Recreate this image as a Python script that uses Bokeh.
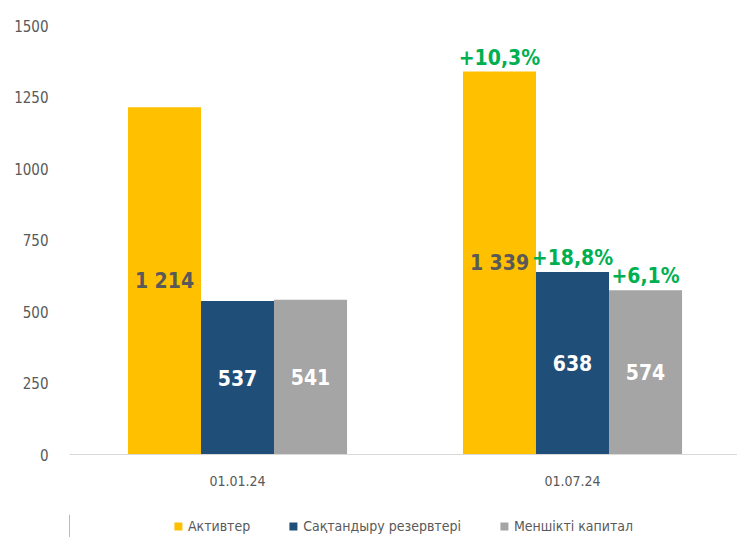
from bokeh.plotting import figure
from bokeh.layouts import column
from bokeh.models import Range1d, FixedTicker, ColumnDataSource, Legend, LegendItem
from bokeh.core.properties import value
from bokeh.embed import file_html
from bokeh.resources import INLINE

dates = ["01.01.24", "01.07.24"]
series_names = ["Активтер", "Сақтандыру резервтері", "Меншікті капитал"]
assets = [1214, 1339]
reserves = [537, 638]
equity = [541, 574]
growth = ["", "+10,3%"], ["", "+18,8%"], ["", "+6,1%"]
y_ticks = [0, 250, 500, 750, 1000, 1250, 1500]

colors = ["#FFC000", "#1F4E79", "#A5A5A5"]
label_colors = ["#595959", "#FFFFFF", "#FFFFFF"]
FONT = "DejaVu Sans Condensed"

p = figure(
    frame_width=668, frame_height=429,
    min_border_left=69, min_border_top=25, min_border_right=0, min_border_bottom=60,
    x_range=Range1d(-0.5015, 1.4925), y_range=Range1d(0, 1500),
    output_backend="svg", toolbar_location=None,
)
p.outline_line_color = None
p.xgrid.grid_line_color = None
p.ygrid.grid_line_color = None

bw = 0.218
offsets = [-bw, 0.0, bw]
xs = list(range(len(dates)))
for vals, off, col, lc, gr in zip([assets, reserves, equity], offsets, colors, label_colors, growth):
    src = ColumnDataSource(dict(
        x=[i + off for i in xs],
        top=vals,
        mid=[v / 2 for v in vals],
        lab=[f"{v:,}".replace(",", " ") for v in vals],
        gr=list(gr),
    ))
    p.vbar(x="x", top="top", width=bw, source=src, fill_color=col, line_color=None)
    p.text(x="x", y="mid", text="lab", source=src, text_align="center", text_baseline="middle",
           text_font=value(FONT), text_font_style="bold", text_font_size="21px", text_color=lc)
    p.text(x="x", y="top", text="gr", source=src, text_align="center", text_baseline="bottom",
           y_offset=-2, text_font=value(FONT), text_font_style="bold", text_font_size="21px",
           text_color="#00B050")

p.xaxis.ticker = FixedTicker(ticks=xs)
p.xaxis.major_label_overrides = {i: d for i, d in enumerate(dates)}
p.xaxis.axis_line_color = "#D9D9D9"
p.xaxis.axis_line_width = 1
p.xaxis.major_tick_line_color = None
p.xaxis.minor_tick_line_color = None
p.xaxis.major_tick_out = 0
p.xaxis.major_tick_in = 0
p.xaxis.major_label_standoff = 21
p.xaxis.major_label_text_font = FONT
p.xaxis.major_label_text_font_size = "14px"
p.xaxis.major_label_text_color = "#595959"

p.yaxis.ticker = FixedTicker(ticks=y_ticks)
p.yaxis.axis_line_color = None
p.yaxis.major_tick_line_color = None
p.yaxis.minor_tick_line_color = None
p.yaxis.major_tick_out = 0
p.yaxis.major_tick_in = 0
p.yaxis.major_label_standoff = 21
p.yaxis.major_label_text_font = FONT
p.yaxis.major_label_text_font_size = "15px"
p.yaxis.major_label_text_color = "#595959"

# legend strip
lg = figure(
    width=737, height=23, min_border=0, x_range=Range1d(0, 1), y_range=Range1d(0, 1),
    x_axis_location=None, y_axis_location=None,
    output_backend="svg", toolbar_location=None,
)
lg.grid.visible = False
lg.outline_line_color = None
items = []
for col, name in zip(colors, series_names):
    r = lg.vbar(x=[-5], top=[1], width=0.1, fill_color=col, line_color=None)
    items.append(LegendItem(label=name, renderers=[r]))
legend = Legend(items=items, orientation="horizontal", location="center",
                label_text_font=FONT, label_text_font_size="14px", label_text_color="#595959",
                glyph_width=10, glyph_height=10, label_standoff=5, spacing=38,
                border_line_color=None, background_fill_alpha=0, padding=0, margin=0)
lg.add_layout(legend, "center")

layout = column(p, lg, spacing=0)
open("out.html", "w").write(file_html(layout, INLINE))
